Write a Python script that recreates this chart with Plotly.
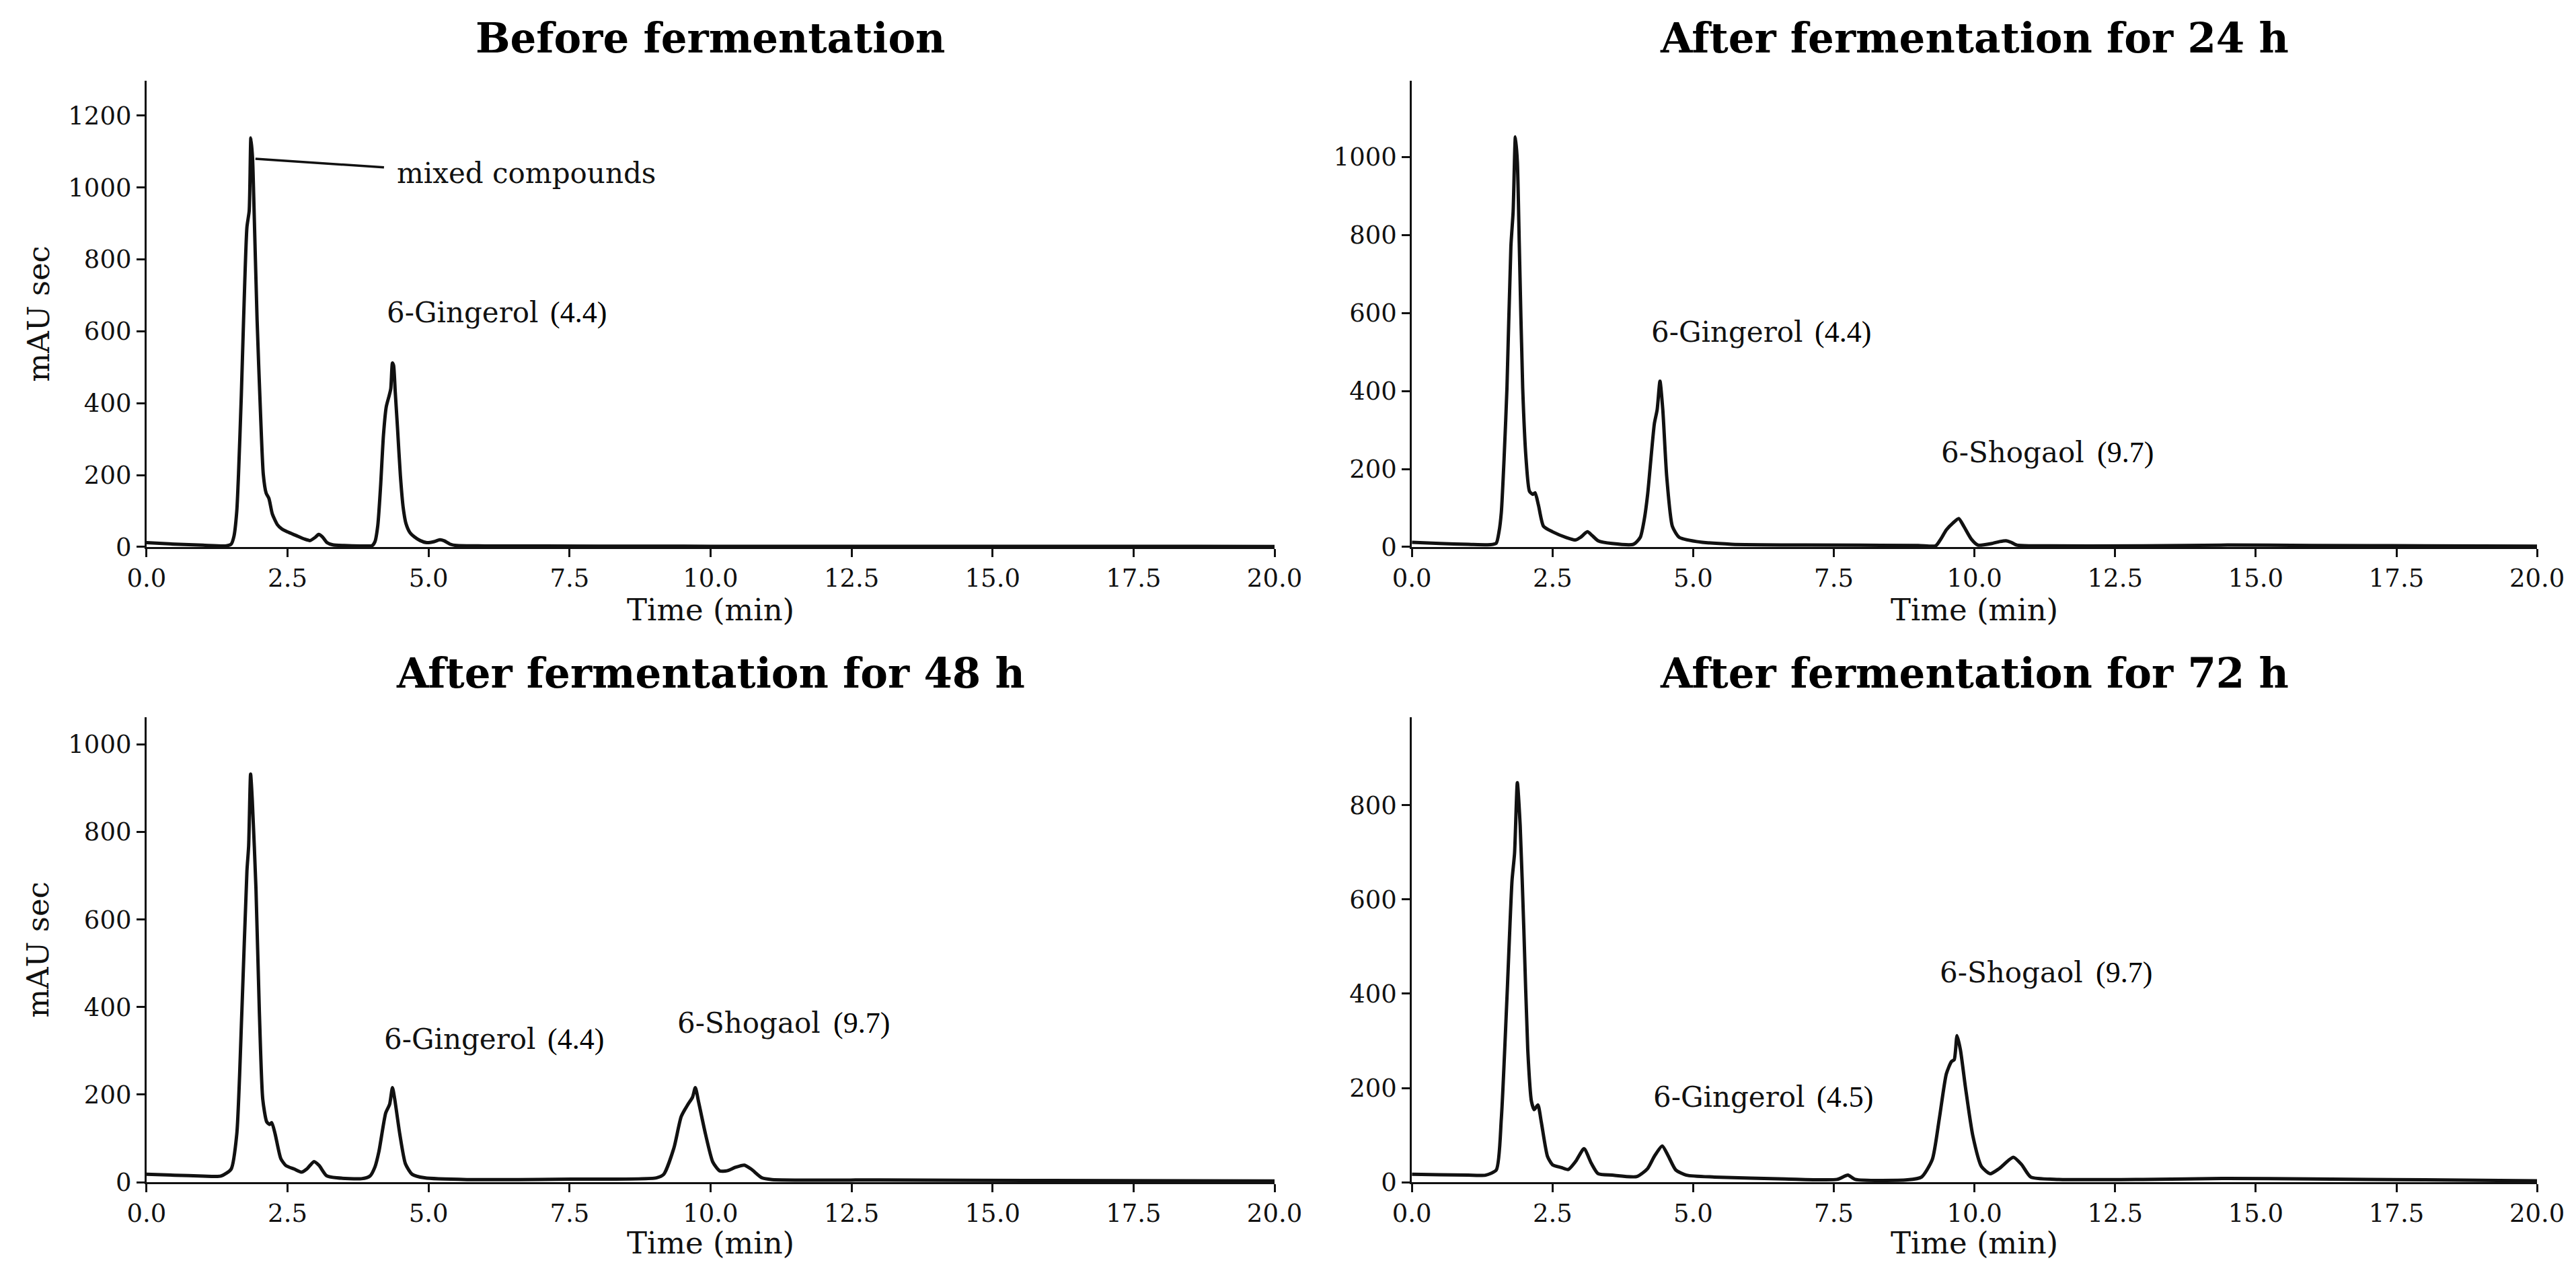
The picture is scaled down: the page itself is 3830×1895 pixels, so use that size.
import plotly.graph_objects as go

# Retention time (min) and signal (mAU sec)
before_time = [0, 0.5, 1.0, 1.4, 1.5, 1.55, 1.6, 1.63, 1.68, 1.72, 1.78, 1.82, 1.85, 1.88, 1.9,
               1.96, 2.02, 2.07, 2.12, 2.17, 2.23, 2.32, 2.4, 2.5, 2.65, 2.8, 2.9, 3.0, 3.05,
               3.12, 3.2, 3.3, 3.5, 3.8, 4.0, 4.05, 4.1, 4.15, 4.2, 4.25, 4.3, 4.33, 4.36, 4.38,
               4.41, 4.45, 4.5, 4.55, 4.6, 4.67, 4.75, 4.85, 4.97, 5.1, 5.2, 5.28, 5.38, 5.5,
               6.0, 8.0, 10.0, 12.0, 15.0, 18.0, 20.0]
before_signal = [12, 8, 5, 3, 8, 30, 100, 200, 420, 630, 890, 935, 1138, 1080, 976,
                 632, 375, 202, 150, 135, 92, 62, 50, 42, 32, 22, 18, 28, 35,
                 28, 12, 6, 4, 3, 4, 15, 60, 170, 310, 390, 420, 440, 512, 505,
                 430, 330, 200, 110, 65, 40, 28, 18, 12, 15, 20, 17, 8, 4,
                 3, 2.5, 2, 2, 2, 2, 1.5]

h24_time = [0, 0.5, 1.0, 1.4, 1.5, 1.55, 1.59, 1.64, 1.69, 1.76, 1.8, 1.84, 1.875, 1.91, 1.97,
            2.03, 2.09, 2.15, 2.19, 2.25, 2.34, 2.5, 2.75, 2.91, 3.0, 3.12, 3.2, 3.31, 3.56,
            3.94, 4.06, 4.13, 4.19, 4.31, 4.36, 4.41, 4.46, 4.53, 4.63, 4.75, 5.06, 5.69, 7.0,
            9.0, 9.31, 9.4, 9.5, 9.62, 9.72, 9.81, 9.94, 10.06, 10.31, 10.45, 10.56, 10.65,
            10.75, 11.0, 13.0, 14.5, 16.0, 18.0, 20.0]
h24_signal = [12, 9, 7, 6, 10, 40, 89, 230, 407, 770, 860, 1051, 987, 770, 407,
              225, 143, 135, 139, 107, 53, 39, 24, 18, 25, 39, 30, 16, 9,
              7, 25, 70, 134, 316, 352, 425, 352, 180, 53, 25, 14, 7, 5,
              4, 3, 20, 44, 62, 73, 53, 21, 5, 9, 14, 16, 12,
              5, 3, 3, 5, 4, 3, 2]

h48_time = [0, 0.5, 1.0, 1.32, 1.5, 1.6, 1.69, 1.78, 1.81, 1.845, 1.875, 1.94, 2.0, 2.06, 2.13,
            2.18, 2.22, 2.28, 2.38, 2.47, 2.62, 2.75, 2.84, 2.97, 3.06, 3.19, 3.37, 3.81, 3.96,
            4.05, 4.12, 4.24, 4.31, 4.36, 4.4, 4.49, 4.59, 4.71, 4.93, 5.68, 7.55, 9.04, 9.17,
            9.35, 9.48, 9.6, 9.68, 9.73, 9.79, 9.91, 10.04, 10.16, 10.29, 10.44, 10.6, 10.72,
            10.91, 11.09, 13.0, 16.0, 20.0]
h48_signal = [18, 16, 14, 14, 30, 110, 390, 711, 767, 932, 872, 671, 390, 190, 138,
              132, 136, 110, 54, 38, 30, 23, 30, 47, 38, 15, 10, 8, 14,
              35, 70, 158, 178, 216, 190, 110, 42, 18, 10, 6, 7, 10, 18,
              78, 150, 178, 194, 216, 182, 110, 46, 26, 26, 34, 39, 30,
              10, 6, 5, 4, 3]

h72_time = [0, 0.5, 1.0, 1.31, 1.5, 1.59, 1.69, 1.78, 1.825, 1.875, 1.925, 1.99, 2.06, 2.125,
            2.175, 2.24, 2.3, 2.41, 2.5, 2.66, 2.78, 2.91, 3.06, 3.19, 3.31, 3.56, 4.0, 4.19,
            4.31, 4.45, 4.56, 4.69, 4.88, 5.38, 6.63, 7.56, 7.75, 7.88, 8.81, 9.06, 9.25, 9.375,
            9.5, 9.59, 9.64, 9.69, 9.75, 9.84, 9.97, 10.125, 10.28, 10.44, 10.69, 10.84, 11.0,
            11.5, 13.0, 14.5, 16.0, 18.0, 20.0]
h72_signal = [17, 16, 15, 15, 26, 135, 391, 640, 698, 848, 757, 537, 281, 172,
              154, 164, 128, 55, 37, 31, 27, 44, 71, 40, 18, 15, 12, 29,
              55, 77, 55, 26, 15, 11, 7, 6, 15, 6, 5, 11, 48, 135,
              230, 256, 260, 311, 281, 201, 99, 33, 18, 29, 53, 37, 11,
              6, 6, 8, 7, 5, 3]

panel_titles = ["Before fermentation", "After fermentation for 24 h",
                "After fermentation for 48 h", "After fermentation for 72 h"]

# Peak labels: panel index, compound, retention time label, x, y
label_panel = [0, 1, 1, 2, 2, 3, 3]
label_name = ["6-Gingerol", "6-Gingerol", "6-Shogaol", "6-Gingerol", "6-Shogaol", "6-Gingerol", "6-Shogaol"]
label_rt = ["(4.4)", "(4.4)", "(9.7)", "(4.4)", "(9.7)", "(4.5)", "(9.7)"]
label_x = [4.24, 4.23, 9.38, 4.19, 9.39, 4.27, 9.36]
label_y = [637, 538, 229, 315, 351, 170, 433]

# "mixed compounds" callout in the first panel
callout_text = "mixed compounds"
callout_point = (1.93, 1080)
callout_end = (4.21, 1056)
callout_text_pos = (4.41, 1040)


def main():
    serif = "DejaVu Serif"
    times_font = "Liberation Serif"
    ink = "#111111"

    times = [before_time, h24_time, h48_time, h72_time]
    signals = [before_signal, h24_signal, h48_signal, h72_signal]

    # axis domains (paper fractions) and y ranges for the 2x2 grid
    x_domains = [[0.0548, 0.4927], [0.5460, 0.9828], [0.0548, 0.4927], [0.5460, 0.9828]]
    y_domains = [[0.5752, 0.9409], [0.5752, 0.9409], [0.0770, 0.4417], [0.0770, 0.4417]]
    y_tops = [1297, 1195, 1062, 987]

    fig = go.Figure()

    for i in range(4):
        sfx = "" if i == 0 else str(i + 1)
        fig.add_trace(go.Scatter(
            x=times[i], y=signals[i],
            mode="lines",
            line=dict(color=ink, width=5, shape="spline", smoothing=0.6),
            xaxis="x" + sfx, yaxis="y" + sfx,
            showlegend=False,
            hoverinfo="skip",
        ))

    layout_axes = {}
    for i in range(4):
        sfx = "" if i == 0 else str(i + 1)
        common = dict(
            showline=True, linecolor=ink, linewidth=3,
            ticks="outside", ticklen=12, tickwidth=3, tickcolor=ink,
            showgrid=False, zeroline=False, automargin=False,
            tickfont=dict(family=serif, size=37, color=ink),
        )
        layout_axes["xaxis" + sfx] = dict(
            common, domain=x_domains[i], range=[0, 20],
            tick0=0, dtick=2.5, tickformat=".1f",
            anchor="y" + sfx,
        )
        layout_axes["yaxis" + sfx] = dict(
            common, domain=y_domains[i], range=[0, y_tops[i]],
            tick0=0, dtick=200,
            anchor="x" + sfx,
        )

    annotations = []

    # panel titles
    for i, title in enumerate(panel_titles):
        annotations.append(dict(
            xref="paper", yref="paper",
            x=sum(x_domains[i]) / 2, y=0.9745 if i < 2 else 0.4760,
            text="<b>" + title + "</b>", showarrow=False,
            xanchor="center", yanchor="middle",
            font=dict(family=serif, size=61, color="black"),
        ))
        # x axis title
        annotations.append(dict(
            xref="paper", yref="paper",
            x=sum(x_domains[i]) / 2, y=0.5260 if i < 2 else 0.0295,
            text="Time (min)", showarrow=False,
            xanchor="center", yanchor="middle",
            font=dict(family=serif, size=45, color=ink),
        ))

    # y axis titles on left column only
    for i in [0, 2]:
        annotations.append(dict(
            xref="paper", yref="paper",
            x=0.0128, y=sum(y_domains[i]) / 2,
            text="mAU sec", showarrow=False, textangle=-90,
            xanchor="center", yanchor="middle",
            font=dict(family=serif, size=45, color=ink),
        ))

    # peak labels; the retention time sits in a Times-like face right after the name
    for p, name, rt, lx, ly in zip(label_panel, label_name, label_rt, label_x, label_y):
        sfx = "" if p == 0 else str(p + 1)
        annotations.append(dict(
            xref="x" + sfx, yref="y" + sfx,
            x=lx, y=ly, yshift=8,
            text=name, showarrow=False, xanchor="left", yanchor="middle",
            font=dict(family=serif, size=42, color=ink),
        ))
        annotations.append(dict(
            xref="x" + sfx, yref="y" + sfx,
            x=lx, y=ly, yshift=8, xshift=243 if name == "6-Gingerol" else 232,
            text=rt, showarrow=False, xanchor="left", yanchor="middle",
            font=dict(family=times_font, size=44, color="black"),
        ))

    # callout text and leader line
    annotations.append(dict(
        xref="x", yref="y",
        x=callout_text_pos[0], y=callout_text_pos[1],
        text=callout_text, showarrow=False,
        xanchor="left", yanchor="middle",
        font=dict(family=serif, size=42, color=ink),
    ))

    shapes = [dict(
        type="line", xref="x", yref="y",
        x0=callout_point[0], y0=callout_point[1],
        x1=callout_end[0], y1=callout_end[1],
        line=dict(color=ink, width=3.5),
    )]

    fig.update_layout(
        width=3830, height=1895,
        margin=dict(l=0, r=0, t=0, b=0),
        paper_bgcolor="white", plot_bgcolor="white",
        annotations=annotations,
        shapes=shapes,
        **layout_axes,
    )

    fig.write_html("out.html")
    print("Plot has been saved to HTML file.")


if __name__ == "__main__":
    main()
